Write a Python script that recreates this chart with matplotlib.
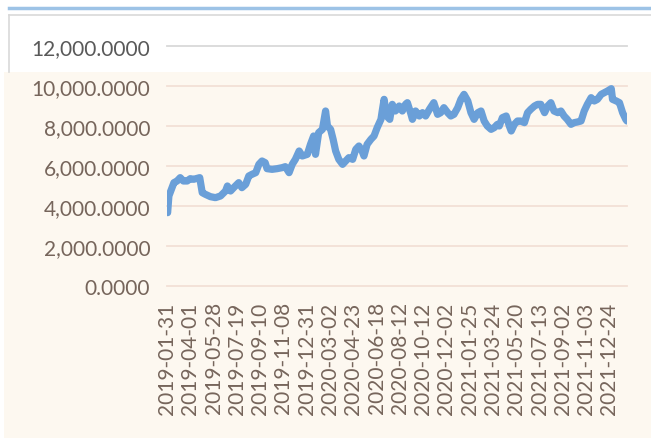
import matplotlib
matplotlib.use('Agg')
import matplotlib.pyplot as plt
from matplotlib.patches import Rectangle
from matplotlib.lines import Line2D

plt.rcParams['font.family'] = ['Lato', 'DejaVu Sans']

# category labels shown on the x axis (every 37th trading day)
tick_labels = ['2019-01-31', '2019-04-01', '2019-05-28', '2019-07-19', '2019-09-10',
               '2019-11-08', '2019-12-31', '2020-03-02', '2020-04-23', '2020-06-18',
               '2020-08-12', '2020-10-12', '2020-12-02', '2021-01-25', '2021-03-24',
               '2021-05-20', '2021-07-13', '2021-09-02', '2021-11-03', '2021-12-24']
tick_step = 37
n_days = 731

# values (trading-day index, level)
day_idx = [0, 1, 3, 5, 11, 16, 21, 26, 32, 37, 42, 48, 52, 56, 61, 69, 77, 85, 93, 96,
           101, 106, 114, 119, 125, 130, 135, 141, 146, 151, 156, 159, 167, 175, 183, 188,
           194, 199, 204, 210, 215, 223, 228, 233, 236, 241, 247, 252, 255, 260, 264, 268,
           273, 279, 284, 289, 295, 300, 305, 310, 313, 318, 324, 329, 334, 340, 342, 345,
           349, 354, 358, 363, 369, 374, 379, 382, 387, 390, 395, 401, 406, 411, 417, 424,
           430, 435, 440, 446, 451, 456, 462, 467, 472, 478, 483, 488, 494, 499, 504, 509,
           515, 520, 525, 528, 533, 539, 544, 547, 552, 557, 562, 568, 573, 578, 584, 589,
           594, 600, 605, 610, 615, 621, 626, 631, 636, 642, 647, 652, 658, 663, 668, 674,
           679, 684, 690, 695, 700, 706, 708, 714, 719, 724, 729, 731]
price = [3700, 3667, 4500, 4667, 5167, 5250, 5417, 5250, 5250, 5367, 5333, 5383, 5417, 4667,
         4583, 4467, 4417, 4500, 4750, 5000, 4750, 4917, 5167, 4917, 5083, 5500, 5583, 5667,
         6083, 6250, 6167, 5867, 5833, 5867, 5917, 5967, 5667, 6083, 6333, 6750, 6500, 6583,
         7083, 7500, 6583, 7667, 7833, 8750, 8000, 7833, 7333, 6750, 6333, 6083, 6250, 6417,
         6333, 6833, 7000, 6750, 6500, 7083, 7333, 7500, 7917, 8333, 8750, 9333, 8500, 8333,
         9083, 8750, 9000, 8750, 9083, 9167, 8667, 8333, 8750, 8500, 8667, 8500, 8833, 9167,
         8583, 8667, 8917, 8667, 8500, 8583, 8917, 9333, 9583, 9250, 8667, 8333, 8667, 8750,
         8250, 8000, 7833, 7917, 8083, 8000, 8417, 8500, 8000, 7750, 8083, 8250, 8250, 8167,
         8667, 8833, 9000, 9083, 9083, 8667, 9000, 9167, 8750, 8667, 8750, 8500, 8333, 8083,
         8167, 8200, 8250, 8750, 9083, 9417, 9250, 9333, 9583, 9667, 9750, 9867, 9333, 9250,
         9167, 8667, 8333, 8250]

y_ticks = [0, 2000, 4000, 6000, 8000, 10000, 12000]

W, H = 651, 439
fig = plt.figure(figsize=(W / 100, H / 100), dpi=100)
fig.patch.set_facecolor('white')


def fx(px):
    return px / W


def fy(py):
    return 1 - py / H


# beige overlay covering the lower part of the screenshot
fig.patches.append(Rectangle((fx(4), -0.02), 1.02 - fx(4), fy(73) + 0.02,
                             transform=fig.transFigure,
                             facecolor='#fdf8f0', edgecolor='none', zorder=-5))
# chart frame and the blue strip above it
fig.lines.append(Line2D([fx(9), 1], [fy(16), fy(16)], transform=fig.transFigure,
                        color='#d9d9d9', lw=1.2, zorder=-4))
fig.lines.append(Line2D([fx(9), fx(9)], [fy(16), fy(73)], transform=fig.transFigure,
                        color='#d9d9d9', lw=1.2, zorder=-4))
fig.lines.append(Line2D([fx(9), 1], [fy(9), fy(9)], transform=fig.transFigure,
                        color='#9dc3e6', lw=2.5, zorder=-4))

ax = fig.add_axes([fx(167), fy(287), fx(627) - fx(167), fy(47) - fy(287)])
ax.set_zorder(1)
ax.patch.set_alpha(0)
ax.plot(day_idx, price, color='#6a9fd8', lw=5.2,
        solid_joinstyle='round', solid_capstyle='round', zorder=3)

ax.set_xlim(0, n_days)
ax.set_ylim(0, 12000)
ax.set_yticks(y_ticks)
ax.set_yticklabels([f'{v:,.4f}' for v in y_ticks])
ax.set_xticks([i * tick_step for i in range(len(tick_labels))])
ax.set_xticklabels(tick_labels, rotation=90)
ax.tick_params(axis='both', length=0, labelsize=15)
ax.tick_params(axis='y', pad=12)
ax.tick_params(axis='x', pad=11)
for s in ax.spines.values():
    s.set_visible(False)

ax.yaxis.grid(True)
for gl, v in zip(ax.get_ygridlines(), y_ticks):
    gl.set_color('#d9d9d9' if v == 12000 else '#f3e0d6')
    gl.set_linewidth(1.3)
    gl.set_clip_on(False)
for lbl, v in zip(ax.get_yticklabels(), y_ticks):
    lbl.set_color('#595959' if v == 12000 else '#76655b')
for lbl in ax.get_xticklabels():
    lbl.set_color('#76655b')

fig.savefig('out.png', dpi=100)
